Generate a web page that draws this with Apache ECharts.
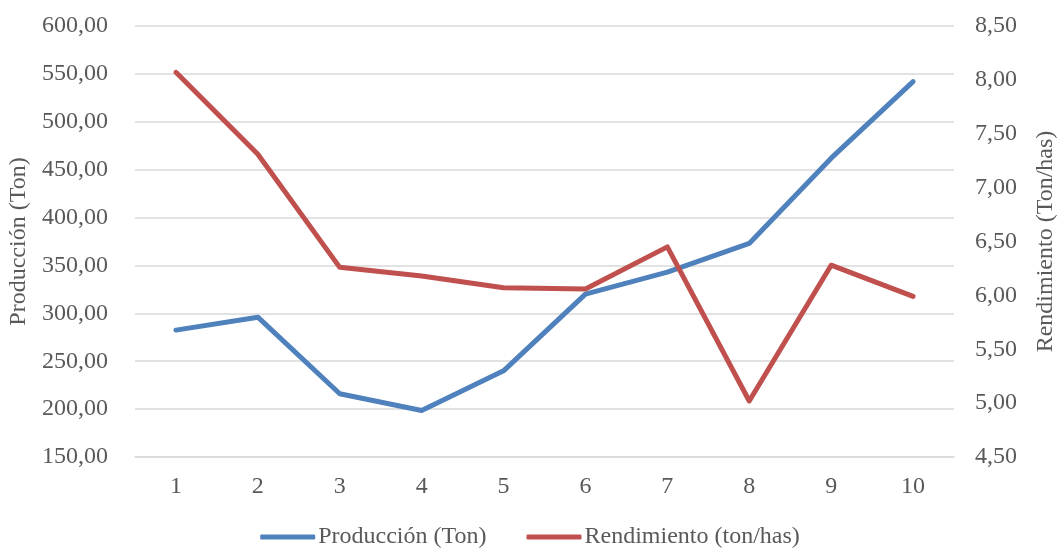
<!DOCTYPE html>
<html>
<head>
<meta charset="utf-8">
<script src="https://cdn.jsdelivr.net/npm/echarts@6/dist/echarts.min.js"></script>
<style>
html,body{margin:0;padding:0;background:#fff;}
#chart{width:1060px;height:548px;}
</style>
</head>
<body>
<div id="chart"></div>
<script>
const categories = ['1','2','3','4','5','6','7','8','9','10'];
const produccion = [282.5, 296, 216, 198.5, 240, 320, 343, 373, 462, 542];
const rendimiento = [8.07, 7.31, 6.26, 6.18, 6.07, 6.06, 6.45, 5.02, 6.28, 5.99];
const seriesNames = ['Producción (Ton)', 'Rendimiento (ton/has)'];
const axisNames = ['Producción (Ton)', 'Rendimiento (Ton/has)'];

const FONT = '"Liberation Serif", "Times New Roman", serif';
const TXT = '#595959';
const FS = 24;
const fmt = v => v.toFixed(2).replace('.', ',');

const chart = echarts.init(document.getElementById('chart'), null, {renderer: 'canvas'});
chart.setOption({
  animation: false,
  backgroundColor: '#ffffff',
  textStyle: {fontFamily: FONT, color: TXT},
  grid: {left: 135, right: 106, top: 26, bottom: 91, containLabel: false, outerBoundsMode: 'none'},
  legend: {
    data: seriesNames,
    top: 520,
    left: 'center',
    icon: 'roundRect',
    itemWidth: 55,
    itemHeight: 5,
    itemGap: 40,
    textStyle: {fontFamily: FONT, fontSize: FS, color: TXT, padding: [0, 0, 0, -2]}
  },
  xAxis: {
    type: 'category',
    data: categories,
    boundaryGap: true,
    axisLine: {show: true, lineStyle: {color: '#D9D9D9', width: 1.5}},
    axisTick: {show: false},
    axisLabel: {fontFamily: FONT, fontSize: FS, color: TXT, margin: 18}
  },
  yAxis: [
    {
      type: 'value',
      min: 150, max: 600, interval: 50,
      name: axisNames[0],
      nameLocation: 'middle',
      nameGap: 95,
      nameRotate: 90,
      nameTextStyle: {fontFamily: FONT, fontSize: FS, color: TXT},
      axisLine: {show: false},
      axisTick: {show: false},
      axisLabel: {fontFamily: FONT, fontSize: FS, color: TXT, margin: 27, formatter: fmt},
      splitLine: {show: true, lineStyle: {color: '#D9D9D9', width: 1.5}}
    },
    {
      type: 'value',
      min: 4.5, max: 8.5, interval: 0.5,
      name: axisNames[1],
      nameLocation: 'middle',
      nameGap: 80,
      nameRotate: 90,
      nameTextStyle: {fontFamily: FONT, fontSize: FS, color: TXT},
      axisLine: {show: false},
      axisTick: {show: false},
      axisLabel: {fontFamily: FONT, fontSize: FS, color: TXT, margin: 21, formatter: fmt},
      splitLine: {show: false}
    }
  ],
  series: [
    {
      name: seriesNames[0],
      type: 'line',
      yAxisIndex: 0,
      data: produccion,
      symbol: 'none',
      lineStyle: {color: '#4F81BD', width: 5, cap: 'round', join: 'round'},
      itemStyle: {color: '#4F81BD'}
    },
    {
      name: seriesNames[1],
      type: 'line',
      yAxisIndex: 1,
      data: rendimiento,
      symbol: 'none',
      lineStyle: {color: '#C0504D', width: 5, cap: 'round', join: 'round'},
      itemStyle: {color: '#C0504D'}
    }
  ]
});
</script>
</body>
</html>
